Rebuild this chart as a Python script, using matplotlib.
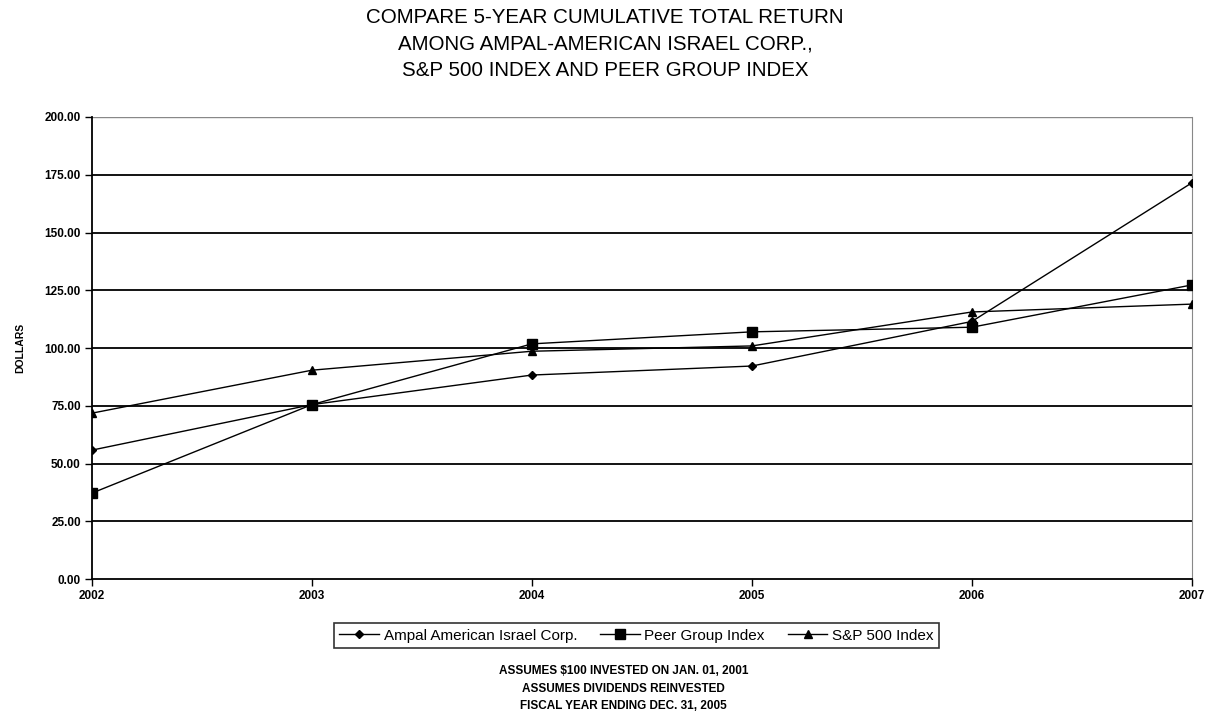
import matplotlib
matplotlib.use("Agg")
import matplotlib.pyplot as plt

plt.rcParams['font.family'] = ['Liberation Sans', 'DejaVu Sans']

years = [2002, 2003, 2004, 2005, 2006, 2007]
ampal = [55.8, 75.5, 88.3, 92.2, 111.5, 171.5]
peer = [37.2, 75.5, 101.8, 107.0, 109.0, 127.3]
sp500 = [71.8, 90.4, 98.6, 100.9, 115.6, 119.0]
series_names = ["Ampal American Israel Corp.", "Peer Group Index", "S&P 500 Index"]
y_ticks = [0, 25, 50, 75, 100, 125, 150, 175, 200]
title_text = ("COMPARE 5-YEAR CUMULATIVE TOTAL RETURN\n"
              "AMONG AMPAL-AMERICAN ISRAEL CORP.,\n"
              "S&P 500 INDEX AND PEER GROUP INDEX")
foot_text = ("ASSUMES $100 INVESTED ON JAN. 01, 2001\n"
             "ASSUMES DIVIDENDS REINVESTED\n"
             "FISCAL YEAR ENDING DEC. 31, 2005")

fig = plt.figure(figsize=(12.1, 7.16), dpi=100)
ax = fig.add_axes([0.076, 0.1913, 0.909, 0.6453])

for yv in y_ticks[1:-1]:
    ax.axhline(yv, color='black', lw=1.3, zorder=1)
ax.axhline(200, color='#888888', lw=1.0, zorder=1)

ax.plot(years, ampal, color='black', lw=1.0, marker='D', ms=4.5, zorder=3, label=series_names[0])
ax.plot(years, peer, color='black', lw=1.0, marker='s', ms=6.5, zorder=3, label=series_names[1])
ax.plot(years, sp500, color='black', lw=1.0, marker='^', ms=5.5, zorder=3, label=series_names[2])

ax.set_xlim(2002, 2007)
ax.set_ylim(0, 200)
ax.set_yticks(y_ticks)
ax.set_yticklabels([f"{v:.2f}" for v in y_ticks], fontsize=8.5, fontweight='bold')
ax.set_xticks(years)
ax.set_xticklabels([str(y) for y in years], fontsize=8.5, fontweight='bold')
ax.tick_params(axis='y', direction='out', length=5, width=1, color='black', pad=3)
ax.tick_params(axis='x', direction='out', length=5, width=1, color='black', pad=3)
ax.spines['top'].set_visible(False)
ax.spines['right'].set_color('#888888')
ax.spines['left'].set_linewidth(1.3)
ax.spines['bottom'].set_linewidth(1.3)
ax.set_ylabel("DOLLARS", fontsize=7.5, fontweight='bold', labelpad=14)

fig.text(0.5, 0.989, title_text, ha='center', va='top', fontsize=14.8,
         linespacing=1.5)

leg = fig.legend(loc='center', bbox_to_anchor=(0.526, 0.112), ncol=3, fontsize=11,
                 frameon=True, fancybox=False, edgecolor='black', handlelength=2.6,
                 handletextpad=0.3, columnspacing=1.5, borderpad=0.35)
leg.get_frame().set_linewidth(1.2)

fig.text(0.5155, 0.071, foot_text, ha='center', va='top', fontsize=8.5,
         fontweight='bold', linespacing=1.6)

fig.savefig("out.png", dpi=100)
